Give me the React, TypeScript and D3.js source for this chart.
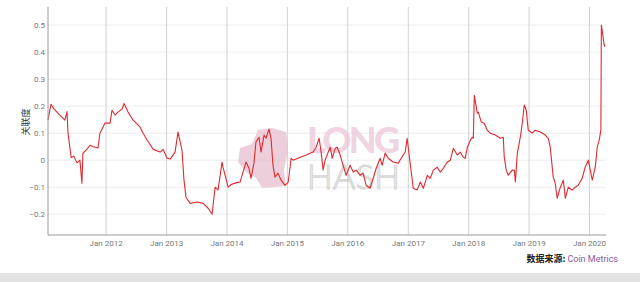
import React from "react";
import * as d3 from "d3";

const dates = [
  "2011-01-15","2011-02-02","2011-02-20","2011-03-27","2011-04-27","2011-05-10","2011-05-16","2011-06-04","2011-06-20","2011-07-09","2011-07-27","2011-08-08","2011-08-14","2011-09-13","2011-09-26","2011-10-15","2011-11-13","2011-11-25","2011-12-25",
  "2012-01-25","2012-02-06","2012-02-24","2012-03-13","2012-04-07","2012-04-19","2012-05-13","2012-06-13","2012-07-25","2012-08-12","2012-09-06","2012-10-12","2012-11-23","2012-12-11",
  "2013-01-04","2013-01-22","2013-02-21","2013-03-11","2013-04-04","2013-04-16","2013-04-28","2013-05-23","2013-07-04","2013-08-10","2013-09-09","2013-10-03","2013-10-21","2013-11-08","2013-12-02","2013-12-08",
  "2014-01-08","2014-01-26","2014-02-19","2014-03-21","2014-04-08","2014-04-26","2014-05-14","2014-05-26","2014-06-13","2014-06-25","2014-07-13","2014-07-26","2014-08-13","2014-08-25","2014-09-12","2014-09-24","2014-10-06","2014-10-18","2014-11-05","2014-11-24","2014-12-18",
  "2015-01-06","2015-01-24","2015-02-05","2015-03-19","2015-04-25","2015-06-06","2015-06-24","2015-07-12","2015-07-24","2015-08-05","2015-08-17","2015-09-05","2015-09-17","2015-09-29","2015-10-17","2015-10-29","2015-11-16","2015-12-04","2015-12-22",
  "2016-01-15","2016-02-03","2016-02-21","2016-03-16","2016-04-03","2016-04-21","2016-05-15","2016-06-03","2016-06-21","2016-07-15","2016-07-27","2016-08-14","2016-09-01","2016-10-01","2016-11-01","2016-11-19","2016-12-13","2016-12-25",
  "2017-01-13","2017-01-31","2017-02-24","2017-03-15","2017-04-02","2017-04-26","2017-05-14","2017-06-01","2017-06-25","2017-07-13","2017-08-01","2017-08-25","2017-09-12","2017-09-30","2017-10-24","2017-11-11","2017-11-29","2017-12-11","2017-12-24",
  "2018-01-11","2018-01-23","2018-01-29","2018-02-04","2018-02-22","2018-02-28","2018-03-18","2018-04-05","2018-04-23","2018-05-11","2018-06-11","2018-07-11","2018-07-29","2018-08-04","2018-08-16","2018-08-28","2018-09-21","2018-10-04","2018-10-10","2018-10-22","2018-11-09","2018-11-21","2018-12-03","2018-12-15","2018-12-27",
  "2019-01-20","2019-02-07","2019-03-10","2019-04-09","2019-04-27","2019-05-09","2019-05-27","2019-06-08","2019-06-20","2019-07-09","2019-07-27","2019-08-08","2019-08-26","2019-09-19","2019-10-07","2019-10-25","2019-11-18","2019-12-06","2019-12-25",
  "2020-01-18","2020-02-05","2020-02-17","2020-02-29","2020-03-10","2020-03-13","2020-03-18","2020-03-29","2020-04-04"
];

const values = [
  0.148,0.207,0.19,0.167,0.148,0.18,0.1,0.01,0.015,-0.01,0.0,-0.085,0.025,0.045,0.055,0.05,0.045,0.1,0.137,
  0.137,0.185,0.167,0.178,0.19,0.21,0.178,0.148,0.122,0.1,0.074,0.04,0.03,0.04,
  0.007,0.004,0.03,0.104,0.037,-0.074,-0.137,-0.16,-0.155,-0.16,-0.178,-0.2,-0.1,-0.11,-0.007,-0.026,
  -0.1,-0.09,-0.085,-0.081,-0.044,-0.007,-0.03,-0.067,-0.011,0.067,0.085,0.03,0.093,0.081,0.115,0.081,-0.019,-0.063,-0.048,-0.074,-0.093,
  -0.081,0.007,0.0,0.011,0.019,0.03,0.048,0.081,0.03,-0.037,0.0,0.03,0.048,0.007,0.044,0.048,0.019,-0.019,-0.056,
  -0.019,-0.044,-0.037,-0.056,-0.048,-0.093,-0.104,-0.067,-0.03,0.007,-0.019,0.026,0.007,-0.007,-0.011,0.007,0.03,0.081,
  -0.015,-0.104,-0.11,-0.081,-0.104,-0.056,-0.067,-0.037,-0.026,-0.044,-0.03,-0.007,0.0,0.044,0.019,0.03,0.011,0.007,0.048,
  0.074,0.085,0.081,0.24,0.174,0.178,0.141,0.137,0.111,0.1,0.093,0.081,0.085,0.011,-0.037,-0.056,-0.037,-0.037,-0.081,0.026,0.085,0.137,0.204,0.185,0.111,
  0.1,0.111,0.104,0.093,0.081,0.048,-0.063,-0.085,-0.141,-0.1,-0.074,-0.141,-0.1,-0.111,-0.1,-0.093,-0.067,-0.026,0.0,
  -0.074,-0.026,0.048,0.074,0.111,0.5,0.48,0.43,0.42
];

const yTicks = [-0.2, -0.1, 0, 0.1, 0.2, 0.3, 0.4, 0.5];
const xTickYears = [2012, 2013, 2014, 2015, 2016, 2017, 2018, 2019, 2020];
const yLabel = "关联度";
const sourceLabel = "数据来源:";
const sourceName = "Coin Metrics";

export default function App() {
  const W = 640, H = 282;
  const left = 48, right = 606, top = 7, bottom = 235;
  const parse = d3.timeParse("%Y-%m-%d");
  const n = Math.min(dates.length, values.length);
  const data = dates.slice(0, n).map((d, i) => ({ date: parse(d) as Date, value: values[i] }));
  const x = d3.scaleTime()
    .domain([parse("2011-01-15") as Date, parse("2020-04-10") as Date])
    .range([left, right]);
  const y = d3.scaleLinear().domain([-0.277, 0.567]).range([bottom, top]);
  const line = d3.line<{ date: Date; value: number }>()
    .x(d => x(d.date))
    .y(d => y(d.value))
    .curve(d3.curveLinear);
  const font = "Roboto, 'Noto Sans', sans-serif";
  const fmt = (v: number) => (v === 0 ? "0" : d3.format(".1f")(v));

  return (
    <svg width={W} height={H} style={{ position: "absolute", left: 0, top: 0, background: "#fff" }}>
      <rect x={0} y={0} width={W} height={H} fill="#fff" />
      {yTicks.map(t => (
        <line key={"hg" + t} x1={left} x2={right} y1={y(t)} y2={y(t)} stroke="#ececec" strokeWidth={1} />
      ))}
      {xTickYears.map(yr => {
        const px = x(new Date(yr, 0, 1));
        return <line key={"vg" + yr} x1={px} x2={px} y1={top} y2={bottom} stroke="#d2d2d2" strokeWidth={1} />;
      })}
      {/* watermark */}
      <g opacity={0.75}>
        <path d="M240,148 L252,144 L258,130 L272,128 L286,132 L288,150 L284,170 L286,186 L262,188 L256,178 L246,172 L238,162 Z" fill="#e7bfd0" />
        <text x={307} y={153} fontFamily="Lato, 'Open Sans', sans-serif" fontWeight={900} fontSize={36} fill="#ecc6d8" textLength={93}>LONG</text>
        <text x={307} y={189} fontFamily="Lato, 'Open Sans', sans-serif" fontWeight={300} fontSize={34} fill="none" stroke="#c9c9c9" strokeWidth={1.2} textLength={93}>HASH</text>
      </g>
      <path d={line(data) || ""} fill="none" stroke="#e02a2f" strokeWidth={1.1} strokeLinejoin="round" />
      <line x1={left} x2={left} y1={top} y2={bottom} stroke="#9a9a9a" strokeWidth={1} />
      <line x1={left} x2={right} y1={bottom} y2={bottom} stroke="#9a9a9a" strokeWidth={1} />
      {yTicks.map(t => (
        <text key={"yl" + t} x={45} y={y(t) + 3} textAnchor="end" fontFamily={font} fontSize={8} fill="#777">{fmt(t)}</text>
      ))}
      {xTickYears.map(yr => {
        const px = x(new Date(yr, 0, 1));
        return <text key={"xl" + yr} x={px} y={246} textAnchor="middle" fontFamily={font} fontSize={8} fill="#777">{"Jan " + yr}</text>;
      })}
      <text transform={`translate(29,122) rotate(-90)`} textAnchor="middle" fontFamily="'Noto Sans CJK SC', sans-serif" fontSize={9} fill="#333">{yLabel}</text>
      <text x={618} y={262} textAnchor="end" fontFamily="'Noto Sans CJK SC', Roboto, sans-serif" fontSize={9}>
        <tspan fill="#222" fontWeight={700}>{sourceLabel} </tspan>
        <tspan fill="#8d5a9e" fontFamily={font}>{sourceName}</tspan>
      </text>
      <rect x={0} y={273} width={W} height={9} fill="#e2e2e2" />
    </svg>
  );
}
